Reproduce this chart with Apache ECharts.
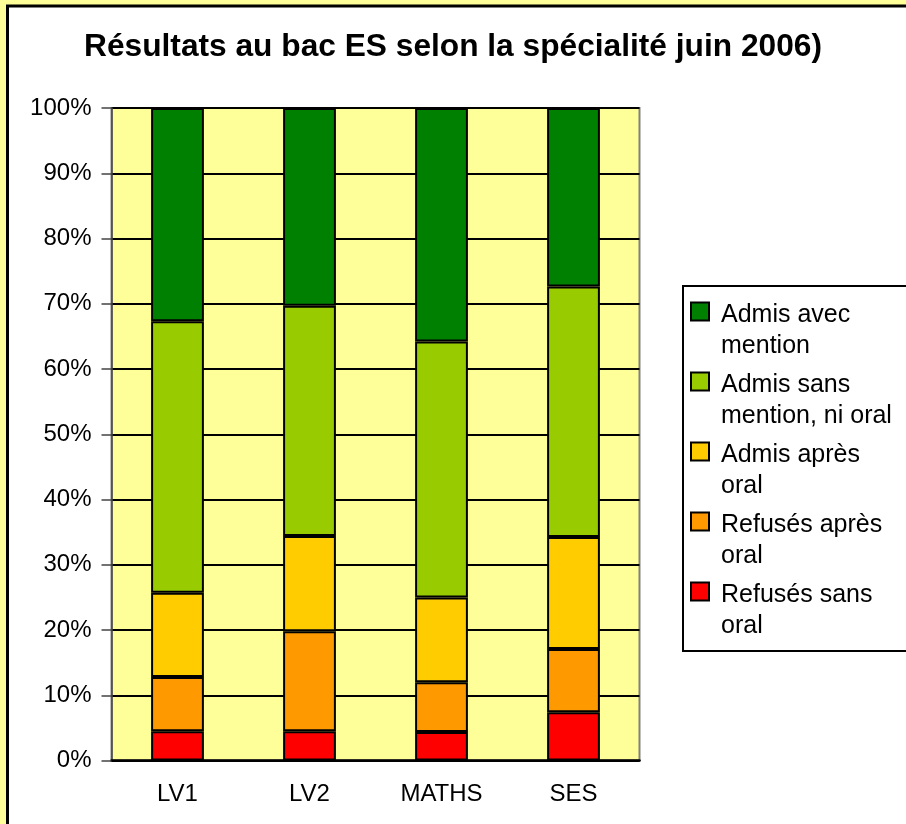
<!DOCTYPE html>
<html>
<head>
<meta charset="utf-8">
<title>Résultats au bac ES</title>
<script src="https://cdn.jsdelivr.net/npm/echarts@6/dist/echarts.min.js"></script>
<style>
    html, body { margin: 0; padding: 0; background: #FFFF99; }
    #chart { width: 906px; height: 824px; }
</style>
</head>
<body>
<div id="chart"></div>
<script>
// données (en %)
var specialites = ['LV1', 'LV2', 'MATHS', 'SES'];
var refusesSansOral  = [4.5, 4.5, 4.35, 7.4];
var refusesApresOral = [8.3, 15.3, 7.65, 9.7];
var admisApresOral   = [12.9, 14.6, 13.0, 17.15];
var admisSansMention = [41.6, 35.3, 39.2, 38.4];
var admisAvecMention = [32.7, 30.3, 35.8, 27.35];

var noms = ['Refusés sans\noral', 'Refusés après\noral', 'Admis après\noral',
            'Admis sans\nmention, ni oral', 'Admis avec\nmention'];
var couleurs = ['#FF0000', '#FF9900', '#FFCC00', '#99CC00', '#008000'];
var valeurs = [refusesSansOral, refusesApresOral, admisApresOral, admisSansMention, admisAvecMention];

var police = 'Liberation Sans, Arial, sans-serif';

var myChart = echarts.init(document.getElementById('chart'));

var series = [];
for (var i = 0; i < noms.length; i++) {
    series.push({
        name: noms[i],
        type: 'bar',
        stack: 'total',
        barCategoryGap: '60%',
        data: valeurs[i],
        itemStyle: {
            color: couleurs[i],
            borderColor: '#000',
            borderWidth: 2
        }
    });
}

var option = {
    backgroundColor: '#FFFF99',
    animation: false,
    graphic: [{
        type: 'rect',
        z: -10,
        silent: true,
        shape: { x: 7.5, y: 6, width: 1000, height: 1000 },
        style: { fill: '#FFFFFF', stroke: '#000', lineWidth: 3 }
    }],
    title: {
        text: 'Résultats au bac ES selon la spécialité juin 2006)',
        left: 'center',
        top: 26,
        textStyle: {
            fontFamily: police,
            fontSize: 31.7,
            fontWeight: 'bold',
            color: '#000'
        }
    },
    legend: {
        orient: 'vertical',
        left: 683,
        top: 286,
        padding: [12, 40, 8, 7],
        itemGap: 5,
        itemWidth: 25,
        itemHeight: 63,
        icon: 'path://M0,0 M25,63 M0,3.5L18,3.5L18,21.5L0,21.5Z',
        borderColor: '#000',
        borderWidth: 2,
        backgroundColor: '#FFFFFF',
        data: noms.slice().reverse(),
        itemStyle: { borderColor: '#000', borderWidth: 2 },
        textStyle: {
            fontFamily: police,
            fontSize: 25,
            lineHeight: 31.5,
            color: '#000'
        }
    },
    grid: {
        show: true,
        left: 111.5,
        top: 108,
        right: 266.5,
        bottom: 63.5,
        backgroundColor: '#FFFF99',
        borderColor: '#808080',
        borderWidth: 2
    },
    xAxis: {
        type: 'category',
        data: specialites,
        axisLine: { lineStyle: { color: '#000', width: 2.5 } },
        axisTick: { length: 11, interval: 0, lineStyle: { color: '#555', width: 1.5 } },
        axisLabel: {
            margin: 22,
            fontFamily: police,
            fontSize: 24,
            color: '#000'
        }
    },
    yAxis: {
        type: 'value',
        min: 0,
        max: 100,
        interval: 10,
        axisLine: { show: true, lineStyle: { color: '#444', width: 1.5 } },
        axisTick: { show: true, length: 10, lineStyle: { color: '#444', width: 1.5 } },
        axisLabel: {
            margin: 20,
            formatter: '{value}%',
            fontFamily: police,
            fontSize: 24,
            color: '#000'
        },
        splitLine: { lineStyle: { color: '#000', width: 2 } }
    },
    series: series
};

myChart.setOption(option);
</script>
</body>
</html>
